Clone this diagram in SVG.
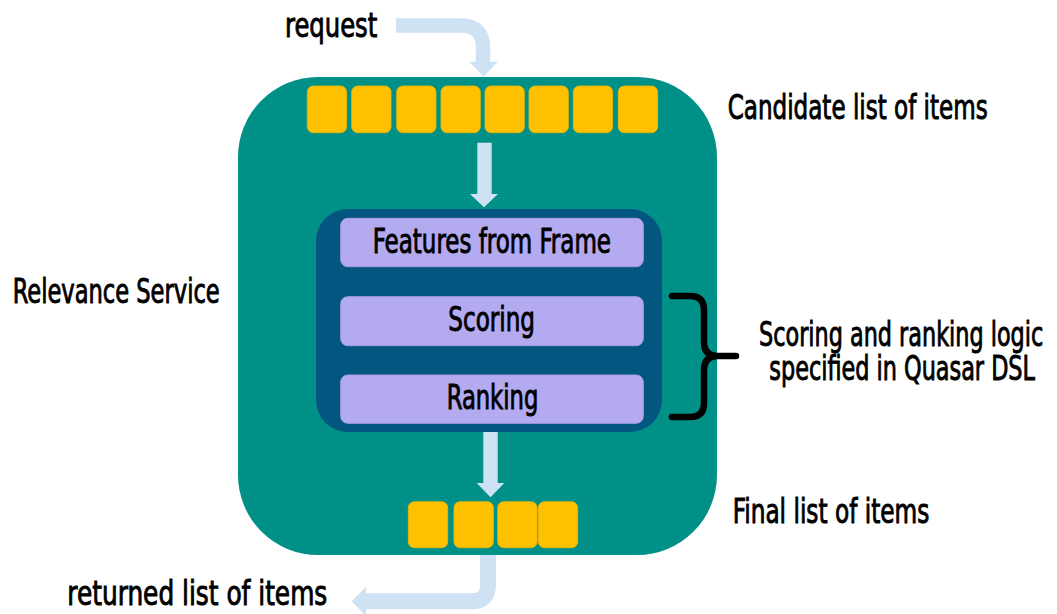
<svg xmlns="http://www.w3.org/2000/svg" width="1057" height="614" viewBox="0 0 1057 614">
<style>
.t{font-family:"DejaVu Sans Condensed","DejaVu Sans","Liberation Sans",sans-serif;font-size:34px;fill:#000;stroke:#000;stroke-width:0.9;}
.item{fill:#FFC000;stroke:#F2B800;stroke-width:0.8;}
.bar{fill:#B4AAF0;stroke:#A79DE4;stroke-width:1;}
.shaft{fill:none;stroke:#CFE2F3;}
.head{fill:#CFE2F3;}
</style>
<rect width="1057" height="614" fill="#fff"/>
<g id="relevance-service">
<rect x="238" y="77" width="479" height="478" rx="80" ry="80" fill="#009087"/>
<text class="t" transform="translate(12.7,303) scale(0.65,1)" textLength="318.5" lengthAdjust="spacingAndGlyphs">Relevance Service</text>
</g>
<g id="candidate-list">
<rect class="item" x="307.3" y="86" width="39.3" height="46.7" rx="6"/>
<rect class="item" x="351.7" y="86" width="39.3" height="46.7" rx="6"/>
<rect class="item" x="396.7" y="86" width="39.3" height="46.7" rx="6"/>
<rect class="item" x="441" y="86" width="39.3" height="46.7" rx="6"/>
<rect class="item" x="485" y="86" width="39.3" height="46.7" rx="6"/>
<rect class="item" x="529" y="86" width="39.3" height="46.7" rx="6"/>
<rect class="item" x="573.3" y="86" width="39.3" height="46.7" rx="6"/>
<rect class="item" x="618.3" y="86" width="39.3" height="46.7" rx="6"/>
<text class="t" transform="translate(727.7,119) scale(0.65,1)" textLength="400" lengthAdjust="spacingAndGlyphs">Candidate list of items</text>
</g>
<g id="pipeline">
<rect x="316" y="209" width="346" height="223" rx="32" ry="32" fill="#02567F"/>
</g>
<g id="features">
<rect class="bar" x="340.7" y="218.3" width="302.6" height="48.4" rx="7"/>
<text class="t" transform="translate(372.7,253) scale(0.65,1)" textLength="366.6" lengthAdjust="spacingAndGlyphs">Features from Frame</text>
</g>
<g id="scoring">
<rect class="bar" x="340.7" y="296.7" width="302.6" height="49" rx="7"/>
<text class="t" transform="translate(448.3,331) scale(0.65,1)" textLength="133.4" lengthAdjust="spacingAndGlyphs">Scoring</text>
</g>
<g id="ranking">
<rect class="bar" x="340.7" y="375" width="302.6" height="48.3" rx="7"/>
<text class="t" transform="translate(446.7,409) scale(0.65,1)" textLength="140.9" lengthAdjust="spacingAndGlyphs">Ranking</text>
</g>
<g id="final-list">
<rect class="item" x="408.3" y="501.7" width="39.4" height="46" rx="6"/>
<rect class="item" x="454" y="501.7" width="39.4" height="46" rx="6"/>
<rect class="item" x="497.7" y="501.7" width="39.4" height="46" rx="6"/>
<rect class="item" x="538.3" y="501.7" width="39.4" height="46" rx="6"/>
<text class="t" transform="translate(732.7,522.7) scale(0.65,1)" textLength="302.5" lengthAdjust="spacingAndGlyphs">Final list of items</text>
</g>
<g id="dsl-note">
<path d="M672,296 H690 Q704,296 704,310 V342 Q704,356 718,356 H736 M718,356 Q704,356 704,370 V403 Q704,417 690,417 H672" fill="none" stroke="#000" stroke-width="6.5" stroke-linecap="round" stroke-linejoin="round"/>
<text class="t" transform="translate(759,346) scale(0.65,1)" textLength="437.4" lengthAdjust="spacingAndGlyphs">Scoring and ranking logic</text>
<text class="t" transform="translate(769.3,380) scale(0.65,1)" textLength="408.8" lengthAdjust="spacingAndGlyphs">specified in Quasar DSL</text>
</g>
<g id="request-label">
<text class="t" transform="translate(285,37) scale(0.65,1)" textLength="142" lengthAdjust="spacingAndGlyphs">request</text>
</g>
<g id="returned-label">
<text class="t" transform="translate(67.3,605) scale(0.65,1)" textLength="400" lengthAdjust="spacingAndGlyphs">returned list of items</text>
</g>
<g id="connectors">
<path class="shaft" d="M396,25.5 H461 Q483,25.5 483,47.5 V62.5" stroke-width="14.5"/>
<polygon class="head" points="469.3,61.7 497.7,61.7 483.5,76.7"/>
<path class="shaft" d="M484.5,142.7 V194.5" stroke-width="14.4"/>
<polygon class="head" points="470,194 498,194 484,207.3"/>
<path class="shaft" d="M490.5,432 V483.5" stroke-width="14.4"/>
<polygon class="head" points="476.7,483 504.3,483 490.5,497.3"/>
<path class="shaft" d="M488,555 V585 Q488,601.3 471.7,601.3 H365.5" stroke-width="16"/>
<polygon class="head" points="366,586.7 366,616 351.7,601.3"/>
</g>
</svg>
